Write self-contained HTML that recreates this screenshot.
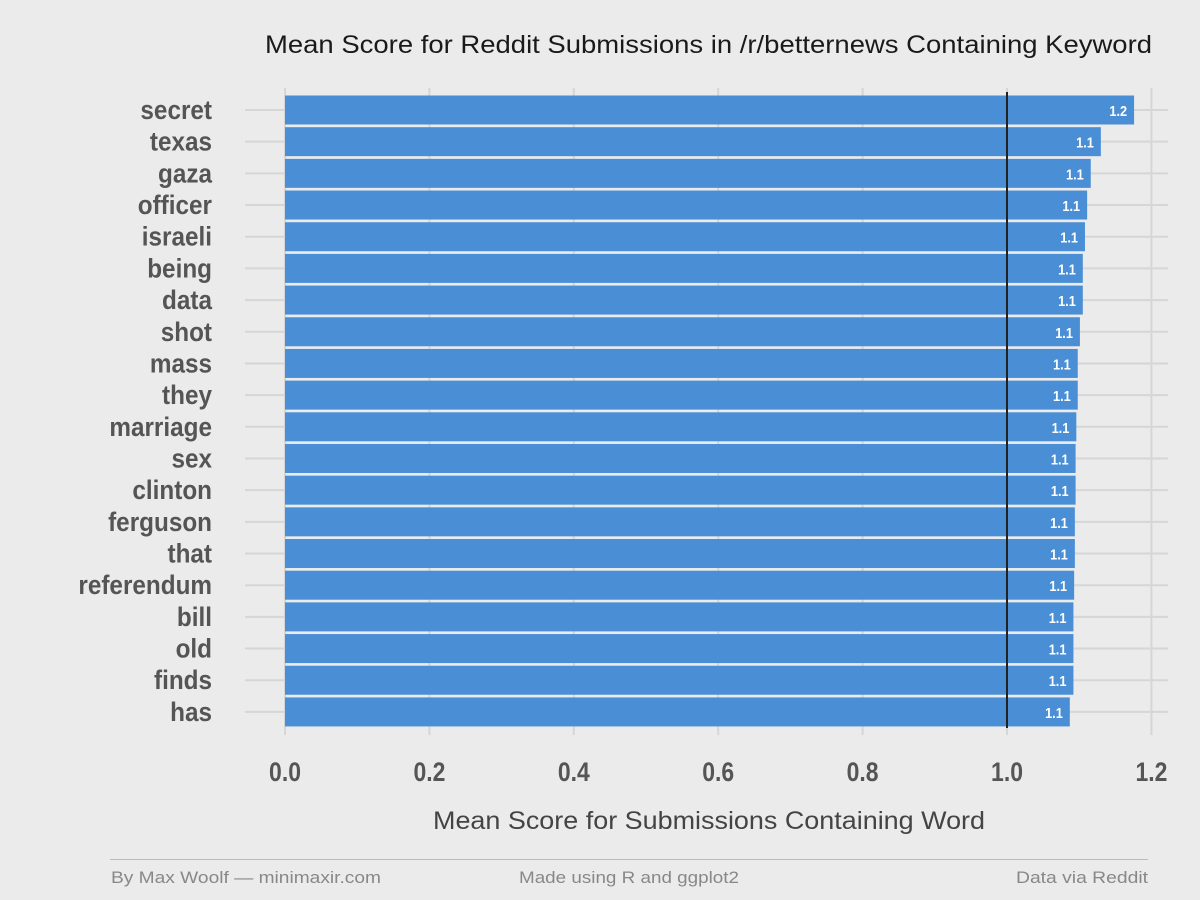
<!DOCTYPE html>
<html><head><meta charset="utf-8"><style>
body{margin:0;background:#ebebeb;}
svg{display:block;}
</style></head><body>
<svg id="chart" width="1200" height="900" xmlns="http://www.w3.org/2000/svg">
<rect width="1200" height="900" fill="#ebebeb"/>
<text x="265" y="53" textLength="887" lengthAdjust="spacingAndGlyphs" font-family="Liberation Sans, sans-serif" font-size="25" fill="#1a1a1a">Mean Score for Reddit Submissions in /r/betternews Containing Keyword</text>
<g id="grid"></g><g id="bars"></g><g id="labels"></g>
<text x="433" y="829" textLength="552" lengthAdjust="spacingAndGlyphs" font-family="Liberation Sans, sans-serif" font-size="25" fill="#444">Mean Score for Submissions Containing Word</text>
<line x1="110" y1="859.5" x2="1148" y2="859.5" stroke="#bbb" stroke-width="1"/>
<text x="111" y="883" textLength="270" lengthAdjust="spacingAndGlyphs" font-family="Liberation Sans, sans-serif" font-size="17" fill="#888">By Max Woolf — minimaxir.com</text>
<text x="519" y="883" textLength="220" lengthAdjust="spacingAndGlyphs" font-family="Liberation Sans, sans-serif" font-size="17" fill="#888">Made using R and ggplot2</text>
<text x="1016" y="883" textLength="132" lengthAdjust="spacingAndGlyphs" font-family="Liberation Sans, sans-serif" font-size="17" fill="#888">Data via Reddit</text>
</svg>
<script>
const categories=["secret","texas","gaza","officer","israeli","being","data","shot","mass","they","marriage","sex","clinton","ferguson","that","referendum","bill","old","finds","has"];
const values=[1.176,1.130,1.116,1.111,1.108,1.105,1.105,1.101,1.098,1.098,1.096,1.095,1.095,1.094,1.094,1.093,1.092,1.092,1.092,1.087];
const xTicks=[0,0.2,0.4,0.6,0.8,1.0,1.2];
const refValue=1.0;
const NS="http://www.w3.org/2000/svg";
const x=v=>285+v*722;
const y=i=>110+i*31.68;
const F='"Liberation Sans",sans-serif';
function mk(p,t,a){const e=document.createElementNS(NS,t);for(const k in a)e.setAttribute(k,a[k]);document.getElementById(p).appendChild(e);return e;}
xTicks.forEach((t,i)=>{
 const g=mk('grid','line',{x1:x(t),x2:x(t),y1:88,y2:735,stroke:'#d6d6d6','stroke-width':2});
 
 
 const l=mk('labels','text',{x:0,y:0,transform:`translate(${x(t)},781) scale(0.85,1)`,'text-anchor':'middle','font-family':F,'font-size':27,'font-weight':'bold',fill:'#555'});
 l.textContent=t.toFixed(1);
 
 
});
categories.forEach((c,i)=>{
 const g=mk('grid','line',{x1:245,x2:1168,y1:y(i),y2:y(i),stroke:'#d6d6d6','stroke-width':2});
 
 
 const b=mk('bars','rect',{x:x(0),y:y(i)-14.5,width:x(values[i])-x(0),height:29,fill:'#4a8fd6'});
 
 
 const v=mk('labels','text',{x:0,y:0,transform:`translate(${x(values[i])-7},${y(i)+6}) scale(0.85,1)`,'text-anchor':'end','font-family':F,'font-size':15,'font-weight':'bold',fill:'#fff'});
 v.textContent=values[i].toFixed(1);
 
 
 const l=mk('labels','text',{x:0,y:0,transform:`translate(212,${y(i)+9}) scale(0.9,1)`,'text-anchor':'end','font-family':F,'font-size':27,'font-weight':'bold',fill:'#555'});
 l.textContent=c;
 
 
});
const r=mk('labels','line',{x1:x(refValue),x2:x(refValue),y1:92,y2:728,stroke:'#222','stroke-width':2});


</script>
</body></html>
